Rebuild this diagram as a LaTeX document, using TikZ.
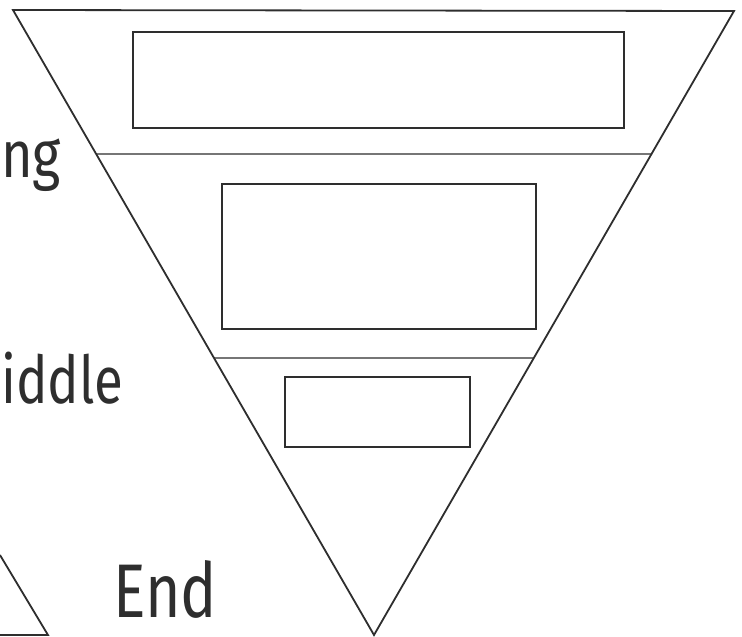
\documentclass[tikz,border=0pt]{standalone}
\usepackage{fontspec}
\usepackage{graphicx}
\newfontfamily\handfont{Fira Sans}
\usetikzlibrary{calc}
\definecolor{ink}{HTML}{2E2E2E}
\tikzset{
  tri/.style={draw=ink, line width=1.8pt, line join=miter},
  divider/.style={draw=ink, line width=1.1pt},
  box/.style={draw=ink, line width=1.1pt, rectangle, inner sep=0pt, fill=none},
  label/.style={inner sep=0pt, anchor=base west, text=ink, font=\handfont\fontsize{66}{66}\selectfont}
}
\begin{document}
\begin{tikzpicture}[x=1pt,y=-1pt]
\useasboundingbox (0,0) rectangle (742,637);
\fill[white] (0,0) rectangle (742,637);
% main inverted triangle
\coordinate (tl) at (13,10);
\coordinate (tr) at (734,11);
\coordinate (ap) at (374,635);
\draw[tri] (tl) -- (tr) -- (ap) -- cycle;
% dividers
\coordinate (d1l) at ($(tl)!0.2304!(ap)$);
\coordinate (d1r) at ($(tr)!0.2292!(ap)$);
\coordinate (d2l) at ($(tl)!0.5568!(ap)$);
\coordinate (d2r) at ($(tr)!0.5561!(ap)$);
\draw[divider] (d1l) -- (d1r);
\draw[divider] (d2l) -- (d2r);
% boxes
\node[box, minimum width=491pt, minimum height=96pt] (b1) at (378.5,80) {};
\node[box, minimum width=314pt, minimum height=145pt] (b2) at (379,256.5) {};
\node[box, minimum width=185pt, minimum height=70pt] (b3) at (377.5,412) {};
% partial triangle at bottom left
\coordinate (pa) at (0,555);
\coordinate (pb) at (48,635);
\coordinate (pc) at (0,635);
\draw[tri] (pa) -- (pb) -- (pc);
% labels
\node[label] (tng) at (1,177) {\scalebox{0.82}[1]{ng}};
\node[label] (tmid) at (1,403) {\scalebox{0.8}[1]{iddle}};
\node[label, font=\handfont\fontsize{76}{76}\selectfont] (tend) at (113,617) {\scalebox{0.8}[1]{End}};
\end{tikzpicture}
\end{document}
